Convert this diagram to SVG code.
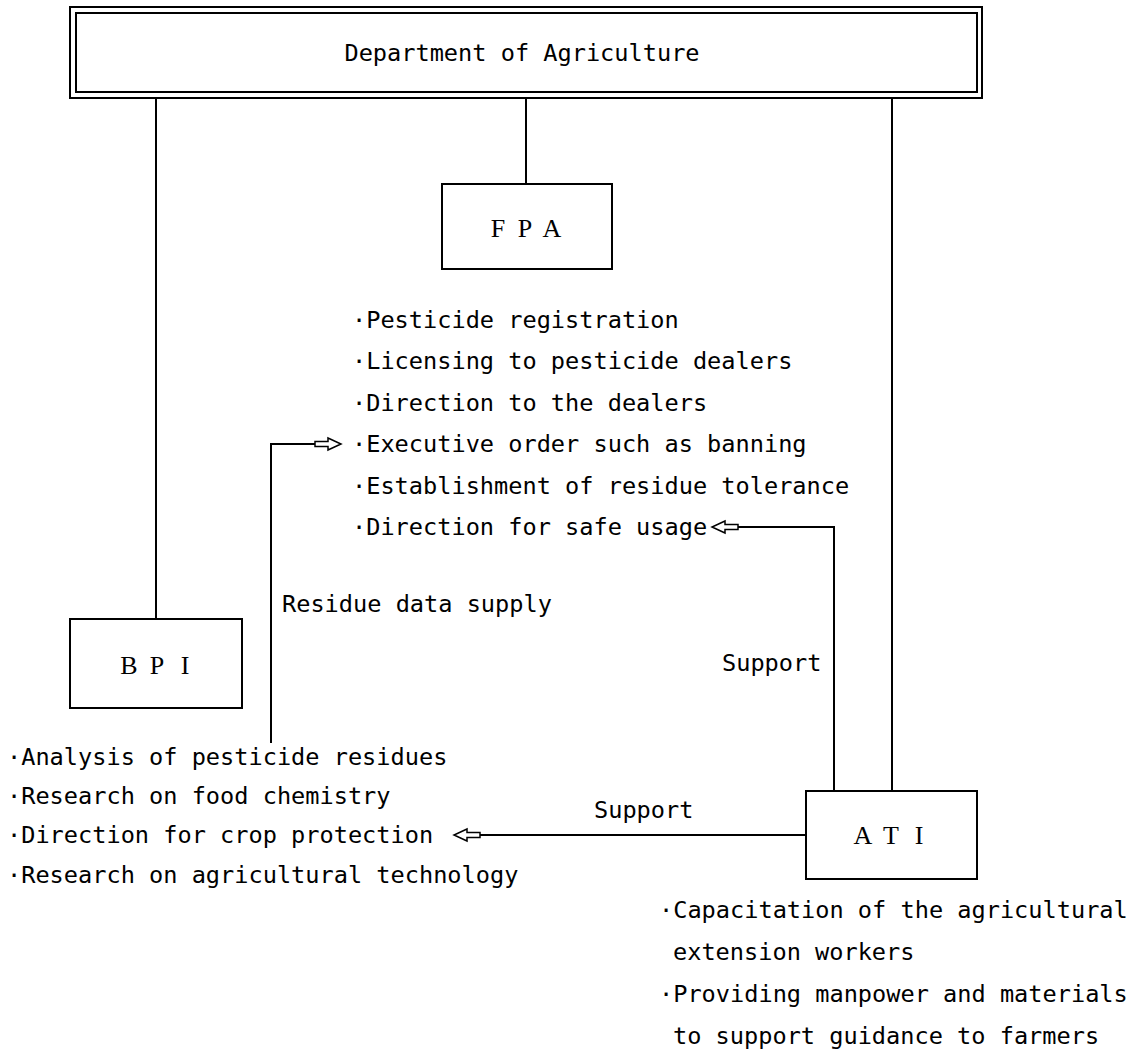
<svg xmlns="http://www.w3.org/2000/svg" width="1134" height="1063" viewBox="0 0 1134 1063">
<style>
  .t { font-family: "DejaVu Sans Mono", "Liberation Mono", monospace; font-size: 23.6px; fill: #000; }
  .lbl { font-family: "Liberation Serif", serif; font-size: 26px; fill: #000; text-anchor: middle; }
  .box { fill: #fff; stroke: #000; stroke-width: 2; }
  .ln { fill: none; stroke: #000; stroke-width: 2; }
  .arr { fill: #fff; stroke: #000; stroke-width: 1.5; stroke-linejoin: miter; }
</style>
<rect width="1134" height="1063" fill="#fff"/>
<g id="connectors">
  <line class="ln" x1="156" y1="98" x2="156" y2="619"/>
  <line class="ln" x1="526" y1="98" x2="526" y2="184"/>
  <line class="ln" x1="892" y1="98" x2="892" y2="791"/>
  <polyline class="ln" points="271,743 271,444 315,444"/>
  <path class="arr" d="M315,441.5 H328 V438 L341,444 L328,450 V446.5 H315 Z"/>
  <polyline class="ln" points="834,791 834,527 738,527"/>
  <path class="arr" d="M738,524.5 H725 V521 L712,527 L725,533 V529.5 H738 Z"/>
  <line class="ln" x1="806" y1="835" x2="480" y2="835"/>
  <path class="arr" d="M480,832.5 H467 V829 L454,835 L467,841 V837.5 H480 Z"/>
  <text class="t" x="282" y="612">Residue data supply</text>
  <text class="t" x="722" y="671">Support</text>
  <text class="t" x="594" y="818">Support</text>
</g>
<g id="dept">
  <rect class="box" x="70" y="7" width="912" height="91"/>
  <rect class="ln" x="76" y="13" width="901" height="79" stroke-width="1.5"/>
  <text class="t" x="522" y="61" text-anchor="middle">Department of Agriculture</text>
</g>
<g id="fpa">
  <rect class="box" x="442" y="184" width="170" height="85"/>
  <text class="lbl" x="498 525 552" y="237">FPA</text>
</g>
<g id="fpa-duties">
  <text class="t" x="352" y="328">·Pesticide registration</text>
  <text class="t" x="352" y="369">·Licensing to pesticide dealers</text>
  <text class="t" x="352" y="411">·Direction to the dealers</text>
  <text class="t" x="352" y="452">·Executive order such as banning</text>
  <text class="t" x="352" y="494">·Establishment of residue tolerance</text>
  <text class="t" x="352" y="535">·Direction for safe usage</text>
</g>
<g id="bpi">
  <rect class="box" x="70" y="619" width="172" height="89"/>
  <text class="lbl" x="129 157 185" y="674">BPI</text>
</g>
<g id="bpi-duties">
  <text class="t" x="7" y="765">·Analysis of pesticide residues</text>
  <text class="t" x="7" y="804">·Research on food chemistry</text>
  <text class="t" x="7" y="843">·Direction for crop protection</text>
  <text class="t" x="7" y="883">·Research on agricultural technology</text>
</g>
<g id="ati">
  <rect class="box" x="806" y="791" width="171" height="88"/>
  <text class="lbl" x="863 891 919" y="844">ATI</text>
</g>
<g id="ati-duties">
  <text class="t" x="659" y="918">·Capacitation of the agricultural</text>
  <text class="t" x="673" y="960">extension workers</text>
  <text class="t" x="659" y="1002">·Providing manpower and materials</text>
  <text class="t" x="673" y="1044">to support guidance to farmers</text>
</g>
</svg>
